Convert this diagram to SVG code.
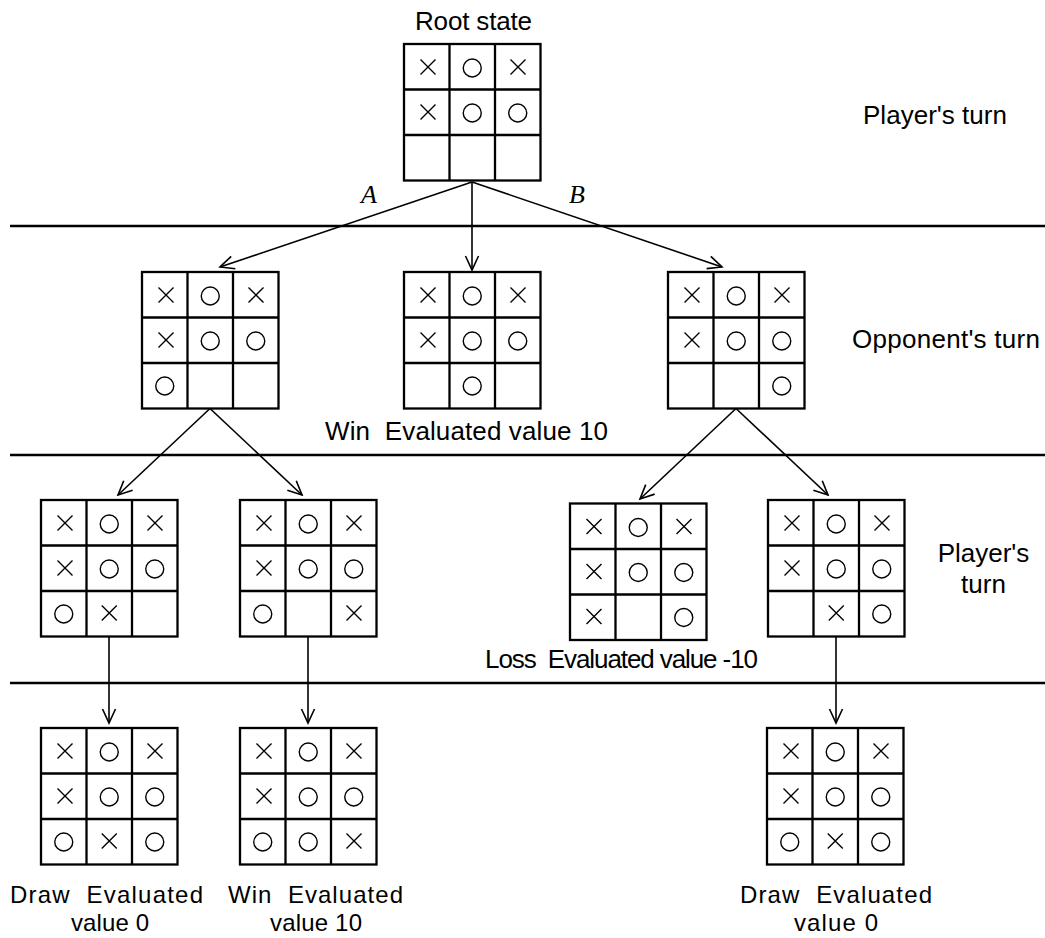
<svg xmlns="http://www.w3.org/2000/svg" xmlns:xlink="http://www.w3.org/1999/xlink" width="1045" height="938" viewBox="0 0 1045 938" xml:space="preserve">
<style>
.t{font-family:"Liberation Sans",Arial,sans-serif;font-size:26px;fill:#000;white-space:pre}
.b{font-size:24px}
.lab{font-family:"Liberation Serif","Times New Roman",serif;font-style:italic;font-size:26px;fill:#000}
.grid{fill:#fff;stroke:#000;stroke-width:2.3}
.mk{fill:none;stroke:#000;stroke-width:1.4}
.sep{stroke:#000;stroke-width:2.5}
.con{stroke:#000;stroke-width:1.6;fill:none;marker-end:url(#arr)}
</style>
<defs>
<marker id="arr" markerUnits="userSpaceOnUse" markerWidth="18" markerHeight="16" viewBox="0 0 18 16" refX="16" refY="8" orient="auto">
<path d="M2,1.5 L16,8 L2,14.5" fill="none" stroke="#000" stroke-width="1.6"/>
</marker>
<g id="grid">
<rect class="grid" x="0" y="0" width="136.5" height="136.5"/>
<path class="grid" d="M45.5,0V136.5M91,0V136.5M0,45.5H136.5M0,91H136.5"/>
</g>
<path id="X" class="mk" d="M-7.5,-7.5L7.5,7.5M7.5,-7.5L-7.5,7.5"/>
<circle id="O" class="mk" r="9"/>
<g id="top2">
<use xlink:href="#grid"/>
<use xlink:href="#X" x="24" y="23"/><use xlink:href="#O" x="68.25" y="24"/><use xlink:href="#X" x="114" y="23"/>
<use xlink:href="#X" x="24" y="68"/><use xlink:href="#O" x="68.25" y="69"/><use xlink:href="#O" x="113.75" y="69"/>
</g>
</defs>
<rect width="1045" height="938" fill="#fff"/>

<g id="separators">
<line class="sep" x1="10" y1="226" x2="1045" y2="226"/>
<line class="sep" x1="10" y1="455" x2="1045" y2="455"/>
<line class="sep" x1="10" y1="683" x2="1045" y2="683"/>
</g>

<g id="turn-labels">
<text class="t" x="863" y="124" textLength="144">Player's turn</text>
<text class="t" x="852" y="348" textLength="188">Opponent's turn</text>
<text class="t" x="983.5" y="562" text-anchor="middle">Player's</text>
<text class="t" x="983.5" y="593" text-anchor="middle">turn</text>
</g>

<g id="connectors">
<line class="con" x1="472" y1="182" x2="220" y2="267"/>
<line class="con" x1="472" y1="182" x2="472" y2="270"/>
<line class="con" x1="472" y1="182" x2="722" y2="267"/>
<line class="con" x1="210" y1="408.5" x2="118" y2="495"/>
<line class="con" x1="210" y1="408.5" x2="302" y2="495"/>
<line class="con" x1="736" y1="408.5" x2="640" y2="499"/>
<line class="con" x1="736" y1="408.5" x2="828" y2="495"/>
<line class="con" x1="109" y1="636.5" x2="109" y2="723"/>
<line class="con" x1="308" y1="636.5" x2="308" y2="723"/>
<line class="con" x1="836" y1="636.5" x2="836" y2="723"/>
<text class="lab" x="361" y="203">A</text>
<text class="lab" x="569" y="203">B</text>
</g>

<g id="root" transform="translate(404,44)">
<text class="t" x="11" y="-14" textLength="117">Root state</text>
<use xlink:href="#top2"/>
</g>

<g id="opp-a" transform="translate(142,272)">
<use xlink:href="#top2"/>
<use xlink:href="#O" x="22.75" y="114"/>
</g>

<g id="opp-b" transform="translate(404,272)">
<use xlink:href="#top2"/>
<use xlink:href="#O" x="68.25" y="114"/>
<text class="t" x="-79" y="168" textLength="283">Win  Evaluated value 10</text>
</g>

<g id="opp-c" transform="translate(668,272)">
<use xlink:href="#top2"/>
<use xlink:href="#O" x="113.75" y="114"/>
</g>

<g id="pl-a" transform="translate(41,500)">
<use xlink:href="#top2"/>
<use xlink:href="#O" x="22.75" y="114"/><use xlink:href="#X" x="68.25" y="113"/>
</g>

<g id="pl-b" transform="translate(240,500)">
<use xlink:href="#top2"/>
<use xlink:href="#O" x="22.75" y="114"/><use xlink:href="#X" x="114" y="113"/>
</g>

<g id="pl-c" transform="translate(570,503.5)">
<use xlink:href="#top2"/>
<use xlink:href="#X" x="24" y="113"/><use xlink:href="#O" x="113.75" y="114"/>
<text class="t" x="-85" y="164.5" textLength="273">Loss  Evaluated value -10</text>
</g>

<g id="pl-d" transform="translate(768,500)">
<use xlink:href="#top2"/>
<use xlink:href="#X" x="68.25" y="113"/><use xlink:href="#O" x="113.75" y="114"/>
</g>

<g id="end-a" transform="translate(41,728)">
<use xlink:href="#top2"/>
<use xlink:href="#O" x="22.75" y="114"/><use xlink:href="#X" x="68.25" y="113"/><use xlink:href="#O" x="113.75" y="114"/>
<text class="t b" x="-31" y="175" textLength="193">Draw  Evaluated</text>
<text class="t b" x="69" y="203" text-anchor="middle" textLength="78">value 0</text>
</g>

<g id="end-b" transform="translate(240,728)">
<use xlink:href="#top2"/>
<use xlink:href="#O" x="22.75" y="114"/><use xlink:href="#O" x="68.25" y="114"/><use xlink:href="#X" x="114" y="113"/>
<text class="t b" x="-12" y="175" textLength="175">Win  Evaluated</text>
<text class="t b" x="76" y="203" text-anchor="middle" textLength="92">value 10</text>
</g>

<g id="end-c" transform="translate(767,728)">
<use xlink:href="#top2"/>
<use xlink:href="#O" x="22.75" y="114"/><use xlink:href="#X" x="68.25" y="113"/><use xlink:href="#O" x="113.75" y="114"/>
<text class="t b" x="-27" y="175" textLength="192">Draw  Evaluated</text>
<text class="t b" x="69" y="203" text-anchor="middle" textLength="84">value 0</text>
</g>
</svg>
